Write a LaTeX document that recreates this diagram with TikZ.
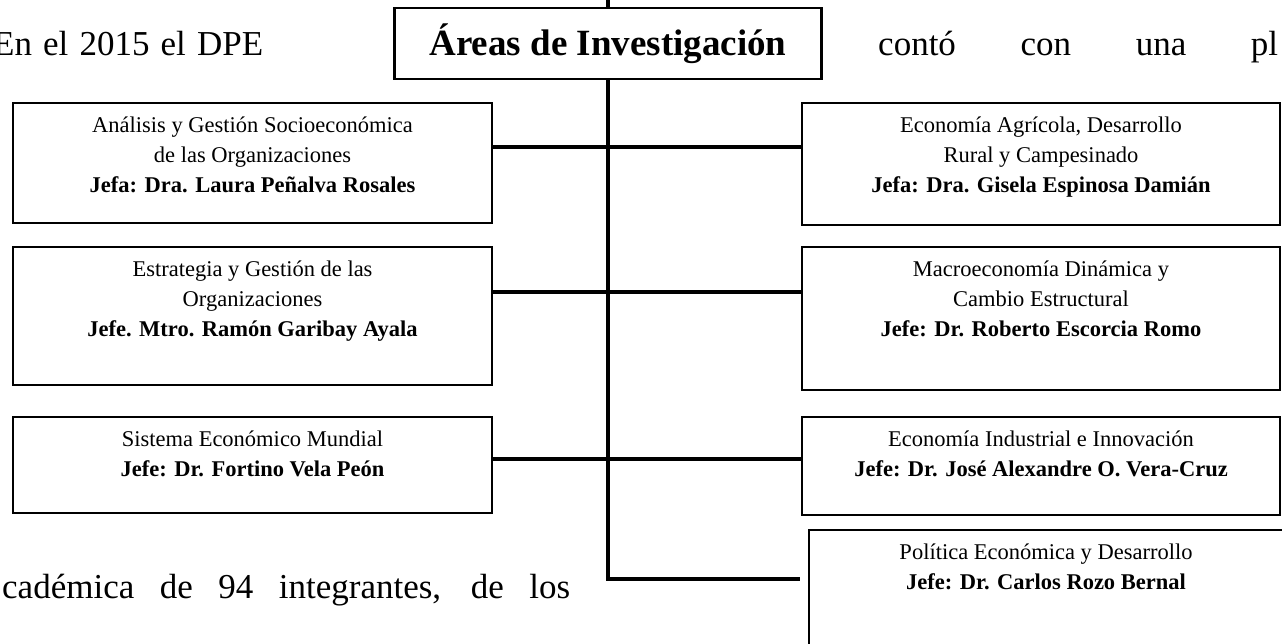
\documentclass[tikz,border=0pt]{standalone}
\usepackage{fontspec}
\setmainfont{Liberation Serif}
\begin{document}
\begin{tikzpicture}[x=1pt,y=-1pt,
  box/.style={draw=black, line width=2.6pt, inner sep=0pt, outer sep=0pt},
  conn/.style={draw=black, line width=3.2pt},
  vconn/.style={draw=black, line width=3.8pt},
  body/.style={font=\fontsize{22.5}{30}\selectfont, align=center, anchor=north, inner sep=0pt,
    execute at begin node={\rule{0pt}{21pt}}},
  bg/.style={font=\fontsize{35}{40}\selectfont, anchor=base west, inner sep=0pt},
  titlefont/.style={font=\bfseries\fontsize{37}{42}\selectfont},
]
\useasboundingbox (0,0) rectangle (1282,643);
\clip (0,0) rectangle (1282,643);

% background page text
\node[bg] (bgA) at (-7,55) {\makebox[270pt][s]{En el 2015 el DPE}};
\node[bg] (bgB) at (878,55) {\makebox[400pt][s]{contó con una pl}};
\node[bg] (bgC) at (2,598) {\makebox[568pt][s]{cadémica de 94 integrantes, de los}};

% title
\node[box, titlefont, minimum width=427pt, minimum height=71pt] (title) at (608,43.5) {Áreas de Investigación};

% left boxes
\node[box, minimum width=479pt, minimum height=120pt] (L1) at (252.5,163) {};
\node[box, minimum width=479pt, minimum height=138pt] (L2) at (252.5,316) {};
\node[box, minimum width=479pt, minimum height=96pt]  (L3) at (252.5,465) {};
% right boxes
\node[box, minimum width=478pt, minimum height=122pt] (R1) at (1041,164) {};
\node[box, minimum width=478pt, minimum height=143pt] (R2) at (1041,318.5) {};
\node[box, minimum width=478pt, minimum height=98pt]  (R3) at (1041,466) {};
\node[box, minimum width=481pt, minimum height=130pt] (R4) at (1049.5,595) {};

% texts
\node[body] (tL1) at (252.5,117) {Análisis y Gestión Socioeconómica\\de las Organizaciones\\\textbf{Jefa: Dra. Laura Peñalva Rosales}};
\node[body] (tL2) at (252.5,261) {Estrategia y Gestión de las\\Organizaciones\\\textbf{Jefe. Mtro. Ramón Garibay Ayala}};
\node[body] (tL3) at (252.5,431) {Sistema Económico Mundial\\\textbf{Jefe: Dr. Fortino Vela Peón}};
\node[body] (tR1) at (1041,117) {Economía Agrícola, Desarrollo\\Rural y Campesinado\\\textbf{Jefa: Dra. Gisela Espinosa Damián}};
\node[body] (tR2) at (1041,261) {Macroeconomía Dinámica y\\Cambio Estructural\\\textbf{Jefe: Dr. Roberto Escorcia Romo}};
\node[body] (tR3) at (1041,431) {Economía Industrial e Innovación\\\textbf{Jefe: Dr. José Alexandre O. Vera-Cruz}};
\node[body] (tR4) at (1046,544) {Política Económica y Desarrollo\\\textbf{Jefe: Dr. Carlos Rozo Bernal}};

% connectors
\coordinate (top) at (608,-5);
\coordinate (bend) at (608,579);
\coordinate (h1) at (608,147);
\coordinate (h2) at (608,292);
\coordinate (h3) at (608,459);
\draw[vconn] (top) -- (title.north);
\draw[vconn] (title.south) -- (bend);
\draw[conn, shorten >=9pt] ([xshift=-1.9pt]bend) -- (bend -| R4.west);
\draw[conn] (h1 -| L1.east) -- (h1 -| R1.west);
\draw[conn] (h2 -| L2.east) -- (h2 -| R2.west);
\draw[conn] (h3 -| L3.east) -- (h3 -| R3.west);
\end{tikzpicture}
\end{document}
